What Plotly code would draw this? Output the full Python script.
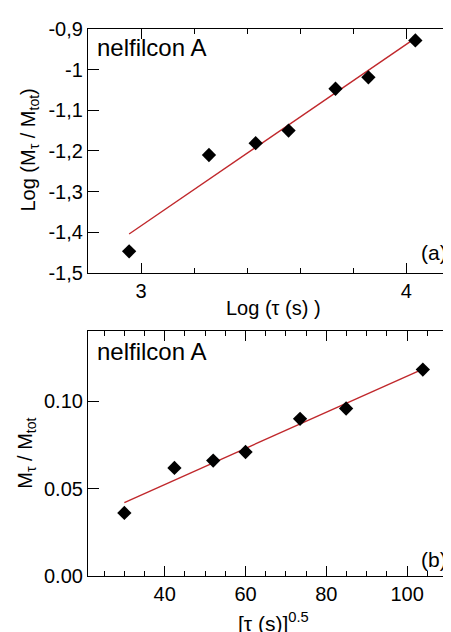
import numpy as np
import plotly.graph_objects as go

# ---- data ----
log_tau = [2.955, 3.256, 3.432, 3.556, 3.733, 3.857, 4.034]
log_ratio = [-1.447, -1.210, -1.181, -1.150, -1.047, -1.019, -0.928]

sqrt_tau = [30.0, 42.4, 52.0, 60.0, 73.5, 84.9, 103.9]
ratio = [0.0361, 0.0619, 0.0661, 0.0710, 0.0900, 0.0959, 0.1182]

top_xtick_vals = [3, 4]
top_xtick_text = ["3", "4"]
top_ytick_vals = [-1.5, -1.4, -1.3, -1.2, -1.1, -1.0, -0.9]
top_ytick_text = ["-1,5", "-1,4", "-1,3", "-1,2", "-1,1", "-1", "-0,9"]

bot_xtick_vals = [40, 60, 80, 100]
bot_xtick_text = ["40", "60", "80", "100"]
bot_ytick_vals = [0.0, 0.05, 0.10]
bot_ytick_text = ["0.00", "0.05", "0.10"]

FONT = "Liberation Sans, Arial, sans-serif"
RED = "#c0282c"

# linear fits
p_top = np.polyfit(log_tau, log_ratio, 1)
p_bot = np.polyfit(sqrt_tau, ratio, 1)
fx_top = [min(log_tau), max(log_tau)]
fy_top = list(np.polyval(p_top, fx_top))
fx_bot = [min(sqrt_tau), max(sqrt_tau)]
fy_bot = list(np.polyval(p_bot, fx_bot))

fig = go.Figure()

marker = dict(symbol="diamond", size=11, color="black")

fig.add_trace(go.Scatter(x=fx_top, y=fy_top, mode="lines",
                         line=dict(color=RED, width=1.4), xaxis="x", yaxis="y",
                         showlegend=False))
fig.add_trace(go.Scatter(x=log_tau, y=log_ratio, mode="markers", marker=marker,
                         xaxis="x", yaxis="y", showlegend=False))
fig.add_trace(go.Scatter(x=fx_bot, y=fy_bot, mode="lines",
                         line=dict(color=RED, width=1.4), xaxis="x2", yaxis="y2",
                         showlegend=False))
fig.add_trace(go.Scatter(x=sqrt_tau, y=ratio, mode="markers", marker=marker,
                         xaxis="x2", yaxis="y2", showlegend=False))

OFF = 8  # page offset of the figure in the browser
W, H = 462, 624
L, R, T, B = 80, 10, 14, 56
pw, ph = W - L - R, H - T - B

def fy(py):
    return (H - B - (py - OFF)) / ph

def fxp(px):
    return (px - OFF - L) / pw

top_dom = [fy(269), 1.0]
bot_dom = [0.0, fy(328)]

axis_common = dict(showline=True, linecolor="black", linewidth=1.2,
                   ticks="inside", tickcolor="black", tickwidth=1.2,
                   showgrid=False, zeroline=False, mirror="allticks",
                   tickfont=dict(family=FONT, size=20, color="black"))

fig.update_layout(
    width=W, height=H,
    margin=dict(l=L, r=R, t=T, b=B),
    plot_bgcolor="white", paper_bgcolor="white",
    font=dict(family=FONT, color="black"),
    xaxis=dict(axis_common, domain=[0, 1], anchor="y",
               range=[2.8, 2.8 + pw / 266.0],
               tickmode="array", tickvals=top_xtick_vals, ticktext=top_xtick_text,
               ticklen=10,
               minor=dict(ticks="inside", dtick=0.2, tick0=3, ticklen=5,
                          tickcolor="black", tickwidth=1.2, showgrid=False)),
    yaxis=dict(axis_common, domain=top_dom, anchor="x",
               range=[-1.5, -0.9], tickmode="array",
               tickvals=top_ytick_vals, ticktext=top_ytick_text, ticklen=11),
    xaxis2=dict(axis_common, domain=[0, 1], anchor="y2",
                range=[21.0, 21.0 + pw / 4.05],
                tickmode="array", tickvals=bot_xtick_vals, ticktext=bot_xtick_text,
                ticklen=10,
                minor=dict(ticks="inside", dtick=5, tick0=0, ticklen=5,
                           tickcolor="black", tickwidth=1.2, showgrid=False)),
    yaxis2=dict(axis_common, domain=bot_dom, anchor="x2",
                range=[0, 0.1402], tickmode="array",
                tickvals=bot_ytick_vals, ticktext=bot_ytick_text, ticklen=11),
)

ann = []
def add(text, px, py, size, xanchor="center", angle=0):
    ann.append(dict(text=text, x=fxp(px), y=fy(py), xref="paper", yref="paper",
                    xanchor=xanchor, yanchor="middle", showarrow=False,
                    textangle=angle, font=dict(family=FONT, size=size, color="black")))

add("nelfilcon A", 95, 41, 24, xanchor="left")
add("nelfilcon A", 95, 349, 24, xanchor="left")
add("(a)", 450, 248, 21, xanchor="right")
add("(b)", 450, 559, 21, xanchor="right")
add("Log (τ (s) )", 274, 305, 20)
add("[τ (s)]<sup>0.5</sup>", 274, 623, 21)
add("Log (M<sub>τ</sub> / M<sub>tot</sub>)", 29, 145, 20, angle=-90)
add("M<sub>τ</sub> / M<sub>tot</sub>", 26, 452, 20, angle=-90)
fig.update_layout(annotations=ann)

fig.write_html("out.html")
